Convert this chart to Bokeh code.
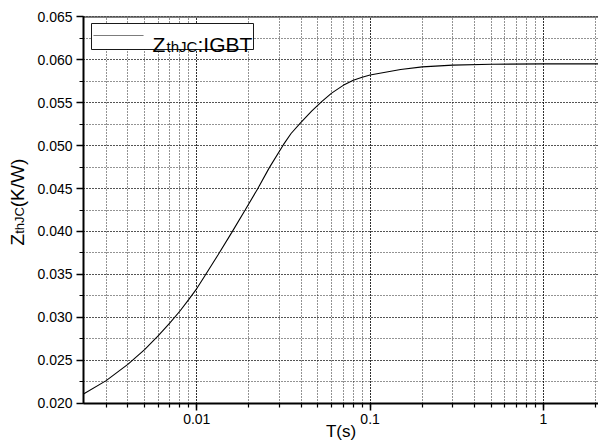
import numpy as np
from bokeh.plotting import figure
from bokeh.layouts import row
from bokeh.core.properties import value
from bokeh.models import (Range1d, LogTicker, SingleIntervalTicker, PrintfTickFormatter,
                          CustomJSTickFormatter, Label, BoxAnnotation, PolyAnnotation, Span)
from bokeh.embed import file_html
from bokeh.resources import INLINE

# ---- data ----
T = [0.00222, 0.003, 0.004, 0.005, 0.006, 0.007, 0.008, 0.009, 0.01, 0.011,
     0.01328, 0.01593, 0.01902, 0.02243, 0.02618, 0.03162, 0.035, 0.03992, 0.046, 0.05257,
     0.06, 0.07, 0.08, 0.09, 0.1, 0.15, 0.2, 0.3, 0.5, 1.0, 2.1]
Z = [0.0211, 0.02265, 0.02454, 0.02626, 0.02788, 0.02937, 0.03075, 0.03211, 0.03336, 0.03468,
     0.0373, 0.0399, 0.0425, 0.04495, 0.0474, 0.0501, 0.0514, 0.0527, 0.0540, 0.0551,
     0.0561, 0.0570, 0.0576, 0.05795, 0.0582, 0.05885, 0.05915, 0.05935, 0.05945, 0.0595, 0.0595]
legend_parts = ["Z", "thJC", ":IGBT"]
ylabel_parts = ["Z", "thJC", "(K/W)"]
xlabel = "T(s)"

FONT = "Liberation Sans"
H = 443
LW = 30  # width of the strip holding the y-axis title

yr = Range1d(0.01999, 0.06501)
p = figure(width=598 - LW, height=H, x_axis_type="log", output_backend="svg",
           toolbar_location=None,
           x_range=Range1d(0.00222, 2.08), y_range=yr,
           min_border_left=83 - LW, min_border_top=16, min_border_right=0, min_border_bottom=40)
p.outline_line_color = None
p.background_fill_color = "white"
p.border_fill_color = "white"

# grid
for g in (p.xgrid[0], p.ygrid[0]):
    g.grid_line_color = "black"
    g.grid_line_alpha = 0.85
    g.grid_line_dash = "1 2"
    g.minor_grid_line_color = "black"
    g.minor_grid_line_alpha = 0.85
    g.minor_grid_line_dash = "1 2"

p.line(T, Z, line_color="black", line_width=1.1)

# axes
xa = p.xaxis[0]
xa.ticker = LogTicker(num_minor_ticks=10)
xa.formatter = CustomJSTickFormatter(code="return Number(tick.toPrecision(3)).toString();")
ya = p.yaxis[0]
ya.ticker = SingleIntervalTicker(interval=0.005, num_minor_ticks=2)
ya.formatter = PrintfTickFormatter(format="%.3f")
for ax in (xa, ya):
    ax.axis_line_width = 2
    ax.axis_line_color = "black"
    ax.major_tick_line_color = "black"
    ax.minor_tick_line_color = "black"
    ax.major_tick_line_width = 1.5
    ax.minor_tick_line_width = 1.2
    ax.major_tick_out = 7
    ax.major_tick_in = 0
    ax.minor_tick_out = 4
    ax.minor_tick_in = 0
    ax.major_label_text_font = FONT
    ax.major_label_text_font_size = "14px"
    ax.major_label_text_color = "black"
xa.major_label_standoff = 3
ya.major_label_standoff = 4
xa.axis_label = xlabel
xa.axis_label_text_font = FONT
xa.axis_label_text_font_size = "17px"
xa.axis_label_text_font_style = "normal"
xa.axis_label_text_color = "black"
xa.axis_label_standoff = -5

# top frame line
p.add_layout(Span(location=0.065, dimension="width", line_color="black", line_width=2))

# legend (manual, frame-relative screen units)
box = BoxAnnotation(left=8, right=170, top=380, bottom=354,
                    left_units="screen", right_units="screen", top_units="screen", bottom_units="screen",
                    fill_color="white", fill_alpha=1, line_color="black", line_width=1, line_alpha=0.9)
p.add_layout(box)
p.add_layout(PolyAnnotation(xs=[10, 60, 60, 10], ys=[368, 368, 368, 368], xs_units="screen", ys_units="screen",
                            line_color="black", line_width=1, fill_alpha=0))
for txt, x, y, size in zip(legend_parts, [69, 83, 114], [359, 357, 359], ["21px", "15px", "21px"]):
    p.add_layout(Label(x=x, y=y, x_units="screen", y_units="screen", text=txt,
                       text_font=FONT, text_font_size=size, text_color="black",
                       text_baseline="alphabetic", text_align="left"))

# y-axis title strip: shares the y range and vertical borders of the main plot
lab = figure(width=LW, height=H, output_backend="svg", toolbar_location=None, title=None,
             x_axis_location=None, y_axis_location=None,
             x_range=Range1d(0, LW), y_range=yr,
             min_border_left=0, min_border_right=0, min_border_top=16, min_border_bottom=40)
lab.grid.visible = False
lab.outline_line_color = None
lab.background_fill_color = "white"
lab.border_fill_color = "white"
for txt, xc, yc, size in zip(ylabel_parts, [16.5, 18.8, 16.5], [0.03905, 0.04128, 0.04564],
                             ["19px", "13px", "19px"]):
    lab.text(x=[xc], y=[yc], text=[txt], angle=np.pi / 2, text_font_size=size,
             text_font=value(FONT), text_color="black", text_baseline="middle", text_align="center")

layout = row(lab, p)
open("out.html", "w").write(file_html(layout, INLINE))
